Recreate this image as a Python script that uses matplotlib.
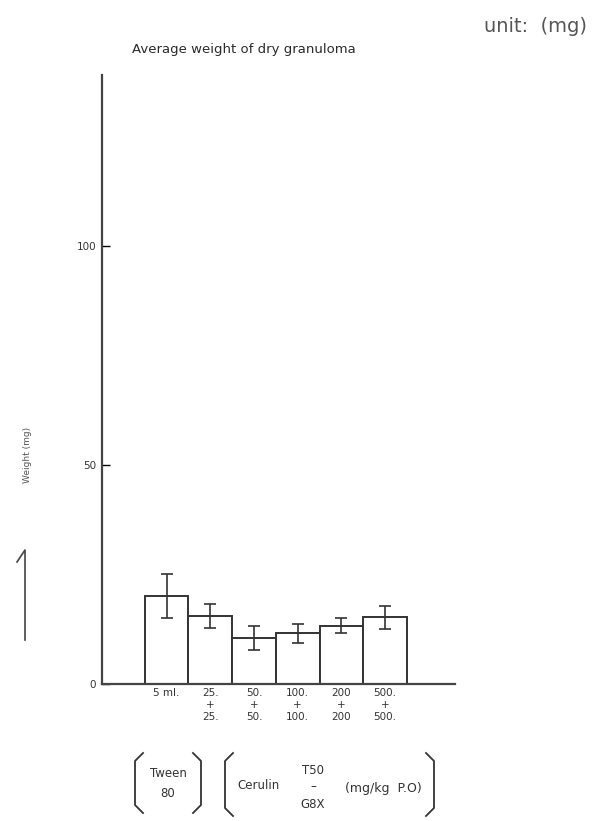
import matplotlib.pyplot as plt
from matplotlib.lines import Line2D
import numpy as np

# data
groups = ["5 ml.", "25.\n+\n25.", "50.\n+\n50.", "100.\n+\n100.", "200\n+\n200", "500.\n+\n500."]
weights = [20.0, 15.5, 10.5, 11.5, 13.3, 15.2]
errors = [5.0, 2.7, 2.7, 2.2, 1.7, 2.6]
yticks = [0, 50, 100]

plt.rcParams['font.family'] = ['DejaVu Sans']
ink = '#333333'

fig = plt.figure(figsize=(6.06, 8.21), dpi=100)
ax = fig.add_axes([0.168, 0.167, 0.583, 0.742])

x = np.arange(len(groups))
ax.bar(x, weights, width=1.0, color='white', edgecolor=ink, linewidth=1.4)
ax.errorbar(x, weights, yerr=errors, fmt='none', ecolor=ink,
            elinewidth=1.2, capsize=4, capthick=1.2)

ax.set_xlim(-1.48, 6.6)
ax.set_ylim(0, 139)
ax.set_yticks(yticks)
ax.set_yticklabels([str(t) for t in yticks], fontsize=7.5, color=ink)
ax.set_xticks(x)
ax.set_xticklabels(groups, fontsize=7.5, color=ink, linespacing=1.25)
ax.tick_params(axis='y', direction='in', length=6, width=1, pad=4)
ax.tick_params(axis='x', length=0, pad=3)
for s in ['top', 'right']:
    ax.spines[s].set_visible(False)
for s in ['left', 'bottom']:
    ax.spines[s].set_linewidth(1.6)
    ax.spines[s].set_color('#444444')

# y label sits lower than the axis centre in the scan
fig.text(28 / 606, 1 - 455 / 821, "Weight (mg)", fontsize=6.5, rotation=90,
         ha='center', va='center', color='#555555')

# titles
fig.text(244 / 606, 1 - 50 / 821, "Average weight of dry granuloma", fontsize=9.5,
         ha='center', va='center', color='#2a2a2a')
fig.text(535 / 606, 1 - 27 / 821, "unit:  (mg)", fontsize=14, ha='center', va='center',
         color='#555555')

# hand-drawn mark on the left
fig.add_artist(Line2D([17 / 606, 25 / 606, 25 / 606],
                      [1 - 562 / 821, 1 - 550 / 821, 1 - 640 / 821],
                      transform=fig.transFigure, color='#444444', lw=1.2))


def bracket(x0, x1, y0, y1):
    fx = lambda px: px / 606
    fy = lambda py: 1 - py / 821
    for xe, d in [(x0, 1), (x1, -1)]:
        xs = [fx(xe + d * 8), fx(xe), fx(xe), fx(xe + d * 8)]
        ys = [fy(y0), fy(y0 + 8), fy(y1 - 8), fy(y1)]
        fig.add_artist(Line2D(xs, ys, transform=fig.transFigure,
                              color=ink, lw=1.3))


bracket(135, 201, 753, 813)
bracket(225, 434, 753, 816)

fs = 8.5


def label(px, py, s, size=fs):
    fig.text(px / 606, 1 - py / 821, s, fontsize=size, ha='center', va='center', color=ink)


label(168, 773, "Tween")
label(168, 793, "80")
label(258, 785, "Cerulin")
label(313, 770, "T50")
label(313, 787, "\u2013")
label(313, 804, "G8X")
label(383, 788, "(mg/kg  P.O)", size=9)

fig.savefig("out.png", dpi=100)
